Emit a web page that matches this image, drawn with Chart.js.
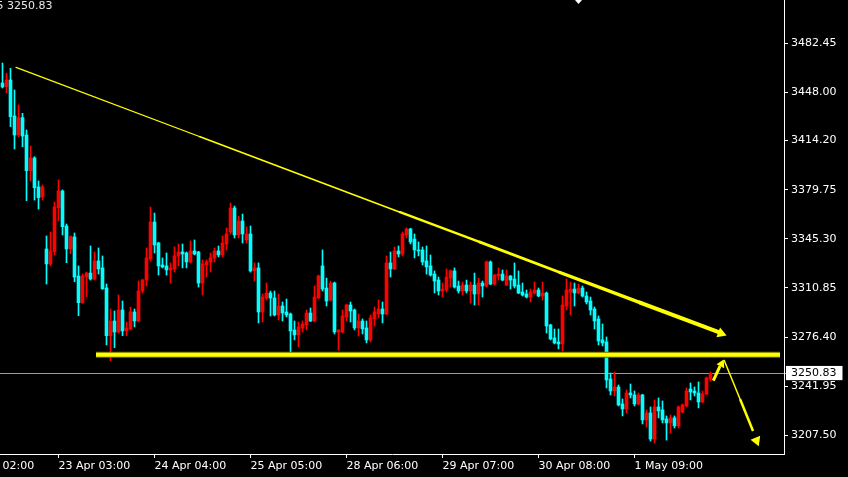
<!DOCTYPE html>
<html>
<head>
<meta charset="utf-8">
<title>XAUUSD H1</title>
<script src="https://cdn.jsdelivr.net/npm/chart.js@4.4.1/dist/chart.umd.min.js"></script>
<style>
  html, body { margin: 0; padding: 0; background: #000; }
  #wrap { width: 848px; height: 477px; }
</style>
</head>
<body>
<div id="wrap"><canvas id="priceChart" width="848" height="477"></canvas></div>
<script>
// hourly candles (oldest first)
var opens = [
  3454.6, 3452.0, 3456.7, 3431.5, 3418.1, 3430.3, 3418.1, 3393.1, 3402.0, 3381.7,
  3374.9, 3338.2, 3327.7, 3336.3, 3367.1, 3378.9, 3354.3, 3338.2, 3346.6, 3319.2,
  3300.5, 3318.5, 3321.3, 3317.1, 3329.8, 3324.9, 3310.8, 3277.4, 3287.7, 3280.0,
  3295.4, 3280.7, 3282.1, 3294.0, 3287.7, 3308.7, 3316.4, 3331.2, 3357.1, 3342.4,
  3327.0, 3326.3, 3323.5, 3324.2, 3333.3, 3336.1, 3335.4, 3329.1, 3336.8, 3336.1,
  3314.3, 3327.0, 3329.1, 3331.9, 3336.8, 3334.0, 3341.7, 3350.1, 3366.9, 3348.0,
  3357.8, 3344.5, 3348.7, 3322.8, 3324.9, 3294.0, 3303.8, 3307.3, 3303.8, 3291.9,
  3298.2, 3294.0, 3292.6, 3281.4, 3277.9, 3282.8, 3284.9, 3293.3, 3287.7, 3303.8,
  3326.3, 3310.8, 3302.4, 3314.3, 3280.0, 3280.0, 3290.5, 3298.9, 3295.4, 3282.8,
  3287.7, 3282.8, 3274.4, 3289.1, 3292.6, 3296.1, 3292.6, 3328.4, 3324.2, 3336.8,
  3334.7, 3348.0, 3352.2, 3345.2, 3337.5, 3337.5, 3329.8, 3326.3, 3320.6, 3316.4,
  3308.7, 3309.4, 3317.8, 3322.8, 3312.2, 3308.7, 3312.9, 3308.7, 3312.9, 3306.6,
  3314.3, 3312.2, 3329.1, 3313.6, 3319.2, 3320.6, 3312.9, 3319.2, 3317.1, 3312.9,
  3308.0, 3306.6, 3304.5, 3307.3, 3309.4, 3305.2, 3307.3, 3284.9, 3275.8, 3273.0,
  3271.6, 3298.2, 3308.0, 3310.1, 3307.3, 3310.8, 3305.2, 3301.7, 3296.1, 3289.1,
  3274.4, 3273.0, 3247.0, 3238.6, 3241.4, 3229.5, 3226.0, 3237.2, 3235.8, 3229.5,
  3235.8, 3218.3, 3223.2, 3204.9, 3227.4, 3225.3, 3219.0, 3216.2, 3219.7, 3214.1,
  3223.9, 3228.1, 3240.0, 3238.6, 3237.2, 3230.9, 3236.5, 3247.0
];
var highs = [
  3468.6, 3461.4, 3464.9, 3449.7, 3439.2, 3433.3, 3421.6, 3410.4, 3402.9, 3385.9,
  3383.1, 3347.3, 3350.1, 3371.1, 3386.6, 3379.6, 3355.7, 3347.5, 3349.4, 3326.3,
  3320.6, 3322.0, 3340.3, 3336.1, 3338.9, 3333.3, 3313.6, 3296.1, 3294.7, 3305.9,
  3301.7, 3287.0, 3297.5, 3296.1, 3315.7, 3317.0, 3338.9, 3367.6, 3363.4, 3342.9,
  3331.9, 3335.4, 3328.4, 3339.6, 3341.7, 3341.7, 3336.1, 3343.8, 3344.5, 3336.6,
  3330.5, 3330.5, 3335.4, 3338.9, 3340.3, 3347.3, 3352.9, 3370.4, 3368.3, 3361.3,
  3362.7, 3353.6, 3354.3, 3328.4, 3328.4, 3306.6, 3314.3, 3308.7, 3308.7, 3306.6,
  3301.0, 3303.1, 3293.3, 3287.7, 3287.0, 3287.7, 3295.4, 3296.8, 3312.2, 3319.9,
  3337.5, 3317.8, 3315.7, 3315.0, 3281.4, 3295.4, 3299.4, 3301.0, 3296.1, 3292.6,
  3289.1, 3287.7, 3291.9, 3297.5, 3302.4, 3301.0, 3333.3, 3336.1, 3339.6, 3340.3,
  3350.1, 3352.9, 3352.7, 3348.7, 3343.1, 3339.6, 3340.3, 3334.0, 3322.8, 3318.5,
  3314.3, 3324.2, 3323.5, 3324.9, 3315.7, 3315.0, 3316.4, 3315.0, 3321.3, 3317.8,
  3315.7, 3329.8, 3329.8, 3320.3, 3324.9, 3323.5, 3323.5, 3319.6, 3328.4, 3322.8,
  3314.3, 3309.4, 3310.1, 3315.0, 3310.8, 3315.0, 3308.0, 3285.4, 3282.1, 3282.1,
  3305.2, 3317.1, 3315.0, 3314.3, 3313.6, 3312.2, 3308.0, 3304.5, 3297.5, 3291.2,
  3285.6, 3276.5, 3251.2, 3251.9, 3242.8, 3233.0, 3239.3, 3243.5, 3238.6, 3237.2,
  3236.3, 3225.3, 3227.4, 3232.3, 3233.7, 3231.6, 3221.1, 3221.8, 3221.1, 3228.1,
  3229.5, 3240.7, 3244.2, 3241.4, 3244.9, 3238.6, 3248.4, 3251.9
];
var lows = [
  3451.1, 3447.8, 3424.0, 3408.3, 3416.9, 3409.9, 3372.1, 3385.9, 3372.5, 3366.2,
  3372.5, 3313.6, 3326.3, 3334.0, 3357.8, 3348.0, 3328.6, 3334.9, 3315.2, 3291.4,
  3300.0, 3304.7, 3316.4, 3316.4, 3320.6, 3309.8, 3270.9, 3259.8, 3269.0, 3279.3,
  3277.4, 3277.4, 3281.4, 3283.5, 3287.0, 3307.3, 3312.2, 3329.8, 3335.4, 3319.9,
  3324.9, 3319.9, 3314.3, 3322.0, 3326.3, 3324.9, 3324.9, 3328.4, 3334.0, 3311.5,
  3305.9, 3318.5, 3322.0, 3329.1, 3332.6, 3332.6, 3337.5, 3348.7, 3345.9, 3345.9,
  3342.4, 3342.4, 3322.0, 3315.7, 3286.3, 3287.0, 3302.4, 3291.2, 3291.2, 3288.4,
  3287.7, 3290.5, 3265.2, 3274.4, 3269.5, 3280.0, 3281.4, 3287.2, 3287.0, 3303.3,
  3308.7, 3298.2, 3301.7, 3278.6, 3267.3, 3279.5, 3287.7, 3287.0, 3281.4, 3277.2,
  3278.6, 3272.3, 3273.0, 3284.2, 3289.8, 3286.3, 3292.1, 3318.5, 3323.7, 3332.6,
  3333.3, 3345.9, 3341.7, 3331.9, 3333.3, 3327.0, 3320.6, 3319.2, 3307.3, 3305.9,
  3304.5, 3308.0, 3311.5, 3310.8, 3307.3, 3305.9, 3307.3, 3300.3, 3298.9, 3298.9,
  3304.5, 3311.5, 3313.1, 3312.9, 3316.4, 3315.9, 3312.4, 3310.1, 3310.8, 3306.8,
  3305.2, 3303.8, 3301.0, 3306.6, 3304.7, 3302.4, 3279.3, 3274.4, 3271.6, 3268.1,
  3266.6, 3295.4, 3291.9, 3298.2, 3306.6, 3304.5, 3299.6, 3291.9, 3282.1, 3270.9,
  3270.2, 3240.7, 3235.8, 3235.1, 3228.1, 3221.1, 3223.2, 3233.7, 3228.1, 3229.0,
  3215.5, 3213.3, 3203.5, 3202.1, 3219.7, 3216.2, 3204.2, 3209.1, 3212.6, 3212.6,
  3223.4, 3227.6, 3232.3, 3235.1, 3226.7, 3230.4, 3236.0, 3245.6
];
var closes = [
  3451.8, 3456.7, 3431.0, 3418.1, 3430.3, 3417.4, 3393.1, 3402.0, 3381.2, 3374.2,
  3381.7, 3327.7, 3336.8, 3367.6, 3378.9, 3353.8, 3338.2, 3346.8, 3318.5, 3300.5,
  3319.2, 3321.3, 3317.1, 3329.8, 3324.2, 3310.3, 3277.4, 3287.7, 3280.0, 3295.4,
  3280.7, 3282.8, 3294.0, 3287.7, 3308.7, 3316.4, 3331.9, 3357.1, 3341.0, 3326.3,
  3325.6, 3323.5, 3324.9, 3333.3, 3336.1, 3334.7, 3329.1, 3336.8, 3334.7, 3314.3,
  3327.7, 3329.1, 3331.9, 3336.8, 3334.0, 3342.4, 3348.7, 3366.9, 3348.0, 3357.8,
  3348.7, 3348.7, 3322.8, 3324.9, 3294.0, 3304.5, 3307.3, 3303.8, 3291.9, 3298.2,
  3293.3, 3291.9, 3280.7, 3277.9, 3283.5, 3285.6, 3293.3, 3287.7, 3304.5, 3319.2,
  3310.1, 3301.7, 3314.3, 3280.0, 3281.4, 3291.2, 3298.9, 3294.7, 3282.8, 3287.7,
  3282.1, 3274.4, 3289.8, 3294.0, 3296.1, 3292.6, 3328.4, 3324.2, 3336.8, 3334.7,
  3348.7, 3352.2, 3343.1, 3337.5, 3336.8, 3329.1, 3325.6, 3319.9, 3315.7, 3308.7,
  3310.1, 3318.5, 3322.8, 3311.5, 3308.7, 3312.9, 3308.7, 3312.9, 3306.6, 3314.3,
  3312.2, 3329.1, 3313.6, 3319.9, 3320.6, 3316.4, 3319.2, 3316.4, 3312.2, 3307.3,
  3305.9, 3304.5, 3308.0, 3309.4, 3305.2, 3307.3, 3284.2, 3275.1, 3272.3, 3271.6,
  3298.9, 3309.4, 3310.1, 3307.3, 3310.8, 3305.2, 3301.0, 3295.4, 3287.7, 3273.7,
  3272.3, 3246.3, 3238.6, 3241.4, 3228.8, 3226.0, 3237.2, 3235.8, 3229.5, 3235.8,
  3218.3, 3223.2, 3204.9, 3227.4, 3224.6, 3218.3, 3216.2, 3219.7, 3214.1, 3227.4,
  3228.8, 3238.6, 3237.9, 3237.2, 3230.9, 3236.5, 3247.7, 3250.83
];

// axis ticks
var timeTickBars = [-10, 14, 38, 62, 86, 110, 134, 158];
var timeTickLabels = ['22 Apr 02:00', '23 Apr 03:00', '24 Apr 04:00', '25 Apr 05:00',
  '28 Apr 06:00', '29 Apr 07:00', '30 Apr 08:00', '1 May 09:00'];
var priceTicks = [3482.45, 3448.00, 3414.20, 3379.75, 3345.30, 3310.85, 3276.40, 3241.95, 3207.50];
var lastPrice = 3250.83;
var headerText = '3248.75 3250.83';

// hand drawn lines: {x: bar index, y: price}
var trendLine = [
  {x: 3.38, y: 3465.5}, {x: 49.38, y: 3416.9}, {x: 99.38, y: 3364.0},
  {x: 119.38, y: 3343.0}, {x: 139.38, y: 3321.7}, {x: 159.38, y: 3300.6},
  {x: 178.88, y: 3280.0}
];
var trendWidths = [1.3, 1.7, 2.4, 2.9, 3.4, 4];
var supportLine = [{x: 23.38, y: 3264.05}, {x: 194.38, y: 3264.05}];
var upArrow = [{x: 177.7, y: 3245.8}, {x: 179.38, y: 3256.1}];
var downArrow = [{x: 180.38, y: 3260.3}, {x: 184.38, y: 3233.0}, {x: 187.63, y: 3210.5}];
var downWidths = [1.5, 2.5];
var arrowHeads = [{x: 179.63, y: 3278.9}, {x: 179.75, y: 3257.5}, {x: 188.5, y: 3203.8}];
var arrowHeadAngles = [110.6, 26.6, 157.6];
var arrowHeadSizes = [6, 5, 6];

var upColor = '#ff0000';
var downColor = '#00ffff';
var yellow = '#ffff00';

var candleColors = opens.map(function (o, i) {
  return closes[i] >= o ? upColor : downColor;
});

var blackBackground = {
  id: 'blackBackground',
  beforeDraw: function (chart) {
    var ctx = chart.ctx;
    ctx.save();
    ctx.fillStyle = '#000';
    ctx.fillRect(0, 0, chart.width, chart.height);
    ctx.restore();
  },
  afterDraw: function (chart) {
    var ctx = chart.ctx;
    ctx.save();
    ctx.font = '11px "DejaVu Sans"';
    ctx.fillStyle = '#e8e8e8';
    ctx.textAlign = 'right';
    ctx.textBaseline = 'top';
    ctx.fillText(headerText, 52.5, 1);
    // chart shift marker
    ctx.fillStyle = '#ffffff';
    ctx.beginPath();
    ctx.moveTo(575, 0);
    ctx.lineTo(582, 0);
    ctx.lineTo(578.5, 4);
    ctx.closePath();
    ctx.fill();
    ctx.restore();
  }
};

var ctx = document.getElementById('priceChart').getContext('2d');
var priceChart = new Chart(ctx, {
  type: 'bar',
  data: {
    datasets: [
      {
        label: 'wicks',
        data: lows.map(function (l, i) { return {x: i, y: [l, highs[i]]}; }),
        backgroundColor: candleColors,
        borderWidth: 0,
        barThickness: 1,
        grouped: false,
        order: 10
      },
      {
        label: 'bodies',
        data: opens.map(function (o, i) { return {x: i, y: [o, closes[i]]}; }),
        backgroundColor: candleColors,
        borderWidth: 0,
        barThickness: 3,
        minBarLength: 1,
        grouped: false,
        order: 9
      },
      {
        type: 'line',
        label: 'support',
        data: supportLine,
        borderColor: '#6b6b00',
        borderWidth: 6,
        pointRadius: 0,
        order: 5
      },
      {
        type: 'line',
        label: 'support2',
        data: supportLine,
        borderColor: yellow,
        borderWidth: 4,
        pointRadius: 0,
        order: 4
      },
      {
        type: 'line',
        label: 'trend',
        data: trendLine,
        borderColor: yellow,
        borderWidth: 2,
        pointRadius: 0,
        borderCapStyle: 'round',
        borderJoinStyle: 'round',
        segment: {
          borderWidth: function (c) { return trendWidths[c.p0DataIndex]; }
        },
        order: 3
      },
      {
        type: 'line',
        label: 'up',
        data: upArrow,
        borderColor: yellow,
        borderWidth: 3,
        pointRadius: 0,
        order: 3
      },
      {
        type: 'line',
        label: 'down',
        data: downArrow,
        borderColor: yellow,
        borderWidth: 2,
        pointRadius: 0,
        segment: {
          borderWidth: function (c) { return downWidths[c.p0DataIndex]; }
        },
        order: 3
      },
      {
        type: 'line',
        label: 'heads',
        data: arrowHeads,
        showLine: false,
        pointStyle: 'triangle',
        pointRadius: arrowHeadSizes,
        pointRotation: arrowHeadAngles,
        pointBackgroundColor: yellow,
        pointBorderWidth: 0,
        order: 2
      }
    ]
  },
  options: {
    responsive: false,
    animation: false,
    events: [],
    layout: { padding: 0, autoPadding: false },
    plugins: {
      legend: { display: false },
      tooltip: { enabled: false },
      title: { display: false }
    },
    scales: {
      x: {
        type: 'linear',
        position: 'bottom',
        min: -0.625,
        max: 195.375,
        offset: false,
        bounds: 'data',
        afterBuildTicks: function (axis) {
          axis.ticks = timeTickBars.map(function (v) { return {value: v}; });
        },
        afterFit: function (axis) {
          axis.height = 23;
          axis.paddingLeft = 0;
          axis.paddingRight = 0;
        },
        ticks: {
          autoSkip: false,
          maxRotation: 0,
          minRotation: 0,
          align: 'start',
          padding: 2,
          color: '#ffffff',
          font: { family: 'DejaVu Sans', size: 11 },
          callback: function (value, index) { return timeTickLabels[index]; }
        },
        grid: {
          drawOnChartArea: false,
          drawTicks: true,
          tickLength: 4,
          tickColor: '#ffffff',
          offset: false
        },
        border: { color: '#ffffff', width: 1 }
      },
      y: {
        type: 'linear',
        position: 'right',
        min: 3194.4,
        max: 3512.8,
        bounds: 'data',
        afterBuildTicks: function (axis) {
          axis.ticks = priceTicks.concat([lastPrice]).map(function (v) { return {value: v}; });
        },
        afterFit: function (axis) {
          axis.width = 64;
          axis.paddingTop = 0;
          axis.paddingBottom = 0;
        },
        ticks: {
          autoSkip: false,
          padding: 3,
          font: { family: 'DejaVu Sans', size: 11 },
          color: function (c) { return c.tick && c.tick.value === lastPrice ? '#000000' : '#ffffff'; },
          showLabelBackdrop: function (c) { return !!(c.tick && c.tick.value === lastPrice); },
          backdropColor: '#ffffff',
          backdropPadding: { left: 5, right: 6, top: 1, bottom: 0 },
          callback: function (value) { return Number(value).toFixed(2); }
        },
        grid: {
          drawOnChartArea: true,
          drawTicks: true,
          tickLength: 4,
          lineWidth: 1,
          color: function (c) { return c.tick && c.tick.value === lastPrice ? '#9a9a9a' : 'rgba(0,0,0,0)'; },
          tickColor: function (c) { return c.tick && c.tick.value === lastPrice ? '#9a9a9a' : '#ffffff'; }
        },
        border: { color: '#ffffff', width: 1 }
      }
    }
  },
  plugins: [blackBackground]
});
</script>
</body>
</html>
